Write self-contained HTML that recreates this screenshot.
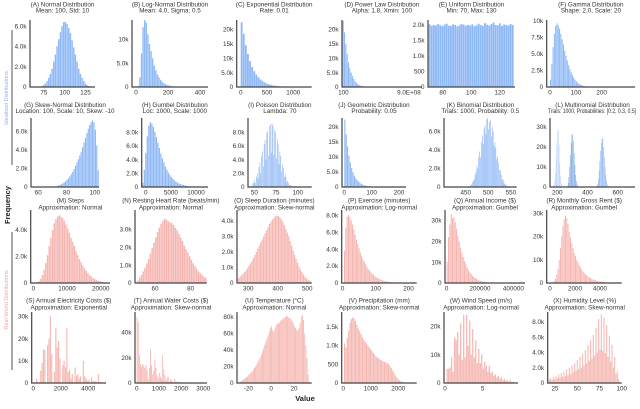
<!DOCTYPE html>
<html><head><meta charset="utf-8"><style>
html,body{margin:0;padding:0;background:#fff;}
svg{display:block;font-family:"Liberation Sans",sans-serif;}
</style></head><body>
<svg id="chart" width="640" height="409" viewBox="0 0 640 409" xmlns="http://www.w3.org/2000/svg">
<g>
<text x="0" y="0" transform="translate(10,205) rotate(-90)" text-anchor="middle" font-size="7.5" font-weight="bold" fill="#222">Frequency</text>
<text x="0" y="0" transform="translate(8,98) rotate(-90)" text-anchor="middle" font-size="5.5" fill="#8ab4f8">Idealised Distributions</text>
<line x1="12" y1="30" x2="12" y2="165" stroke="#555" stroke-width="1"/>
<text x="0" y="0" transform="translate(8,300) rotate(-90)" text-anchor="middle" font-size="5.5" fill="#f4a9a3">Real-World Distributions</text>
<line x1="12" y1="232" x2="12" y2="370" stroke="#555" stroke-width="1"/>
<text x="305" y="401" text-anchor="middle" font-size="7.5" font-weight="bold" fill="#222">Value</text>
</g>
</svg>
<script>
// ---- data (counts in thousands) ----
const countsA=[0,0,0,0.02,0.05,0.1,0.2,0.35,0.6,0.9,1.3,1.8,2.5,3.2,4.0,4.7,5.4,6.0,6.4,6.4,6.2,5.8,5.3,4.6,3.9,3.2,2.5,1.8,1.3,0.9,0.6,0.35,0.2,0.1,0.05,0.02,0,0,0];
const countsB=[0.2,2,7,12.5,14,13.5,11,9,7.5,6,4.5,3.5,2.6,2,1.5,1.1,0.8,0.6,0.45,0.33,0.25,0.18,0.13,0.1,0.07,0.05,0.03,0.02,0.01];
const countsC=[22.5,18.5,14.5,11.5,9,7,5.5,4.3,3.4,2.6,2.0,1.6,1.2,0.95,0.75,0.58,0.45,0.35,0.27,0.2,0.16,0.12,0.09,0.07,0.05,0.04,0.03,0.02,0.015,0.01];
const countsD=[23,19,15,11.5,8.5,6.5,5,3.8,2.8,2.0,1.4,1.0,0.7,0.5,0.35,0.25,0.15,0.1,0.06,0.03];
const countsE=[2.02,1.97,2.0,1.98,2.03,1.99,1.96,2.01,2.04,1.98,1.97,2.02,2.0,1.95,1.99,2.03,2.01,1.97,2.0,1.98,2.02,1.96,1.99,2.04,2.0,1.97,2.06,2.01,1.98,2.03,2.08,2.0,1.99,2.05,1.97,2.02,2.0,1.98,2.03,2.0];
const countsF=[1.1,3.5,6,8,9.2,9.6,9.3,8.8,8,7.2,6.4,5.5,4.7,4,3.3,2.7,2.2,1.8,1.4,1.1,0.85,0.65,0.5,0.38,0.28,0.2,0.15,0.1,0.07,0.05,0.03];
const countsG=[0.03,0.05,0.08,0.12,0.17,0.23,0.3,0.4,0.5,0.62,0.78,0.95,1.15,1.4,1.65,1.95,2.3,2.65,3.0,3.4,3.8,4.3,4.8,5.3,5.8,6.3,6.7,7.0,7.2,7.0,6.2,4.5,1.8];
const countsH=[0.6,2.5,5.0,7.4,9.0,9.5,9.3,8.8,8.1,7.3,6.5,5.7,4.9,4.2,3.6,3.0,2.5,2.1,1.75,1.45,1.2,0.97,0.8,0.65,0.52,0.42,0.34,0.27,0.22,0.17,0.13,0.1,0.08];
const countsI=[0.2,0,0.5,0.7,1.0,0.6,1.5,2.0,1.2,2.9,3.6,2.0,4.6,5.2,3.0,6.3,6.9,4.0,7.9,8.2,4.6,8.9,9.2,5.0,9.3,9.0,4.7,8.4,8.0,4.2,7.0,6.3,3.3,5.2,4.5,2.3,3.3,2.8,1.4,1.9,1.5,0.7,0.9,0.6,0.3,0.3,0.15,0.1];
const countsJ=[22.5,17.5,13.5,10.5,8.2,6.3,4.9,3.8,2.9,2.3,1.8,1.4,1.05,0.8,0.62,0.48,0.37,0.29,0.22,0.17,0.13,0.1,0.08,0.06,0.04];
const countsK=[0.05,0.1,0.15,0.3,0.5,0.7,0.8,1.3,1.6,2.3,2.0,3.2,3.8,3.2,4.8,5.5,4.6,6.3,6.6,5.6,7.3,7.4,6.2,7.0,7.2,5.4,6.4,6.0,4.4,4.8,4.2,3.0,3.3,2.6,1.8,1.8,1.3,0.8,0.8,0.5,0.3,0.3,0.15,0.1,0.05,0.03];
const countsL1=[0.3,1,3,7,14,22,28,28.5,21,12,5.5,2,0.6];
const countsL2=[0.5,2,5,10,16,22,26,26.5,23,17,11,6,3,1.2,0.4];
const countsL3=[0.5,1.5,4,8,13,18,22,24.5,24,20,15,10,6,3,1.3,0.5];
const countsM=[0.02,0.06,0.15,0.3,0.6,1.0,1.5,2.1,2.8,3.4,4.0,4.5,4.8,5.0,5.1,5.0,4.9,4.7,4.4,4.1,3.8,3.4,3.1,2.8,2.4,2.1,1.8,1.55,1.3,1.1,0.9,0.75,0.6,0.48,0.38,0.3,0.24,0.18,0.14,0.1,0.07,0.05];
const countsN=[0.15,0.3,0.45,0.65,0.85,1.1,1.35,1.65,1.95,2.25,2.55,2.85,3.1,3.3,3.5,3.6,3.55,3.45,3.4,3.35,3.25,3.1,2.95,2.75,2.55,2.35,2.1,1.9,1.7,1.5,1.3,1.1,0.95,0.8,0.65,0.55,0.45,0.35,0.3];
const countsO=[0.3,0.4,0.5,0.6,0.7,0.8,0.95,1.1,1.25,1.4,1.6,1.8,2.0,2.2,2.4,2.6,2.8,3.0,3.2,3.4,3.6,3.8,3.95,4.1,4.2,4.3,4.35,4.3,4.25,4.1,3.95,3.75,3.5,3.25,3.0,2.7,2.4,2.1,1.8,1.55,1.3,1.05,0.85,0.7,0.55,0.4,0.3,0.22,0.15,0.1];
const countsP=[3.8,6.5,7.8,8.0,7.8,7.4,6.9,6.3,5.7,5.1,4.6,4.1,3.6,3.2,2.8,2.5,2.2,1.9,1.65,1.45,1.25,1.1,0.95,0.82,0.7,0.6,0.52,0.44,0.38,0.32,0.27,0.23,0.19,0.16,0.13,0.11,0.09,0.07,0.05];
const countsQ=[10,22,28,33,31,31.5,29,26,22.5,20,17,14.5,12.5,10.5,9,7.5,6.2,5.2,4.3,3.5,2.9,2.4,2.0,1.6,1.3,1.05,0.85,0.7,0.55,0.45,0.35,0.28,0.22,0.17,0.13];
const countsR=[0.1,0.3,0.8,1.8,3.5,6,10,15,20,24.5,27.5,29,28,25.5,22,19.5,17,15,13,11.5,10,8.8,7.7,6.7,5.8,5.0,4.3,3.7,3.2,2.8,2.4,2.1,1.8,1.55,1.35,1.15,1.0,0.85,0.72,0.62,0.53,0.45,0.38,0.32,0.27,0.22,0.18,0.15];
const countsS=[2,0,0,5.5,9,15,15,0,17,20,30,13,0,5,25,16,19,11,0,8,10,7,25,5,6,2,4,0,7,3,4,2,3,0,10,3,2,1,1.5,0,2.5,1,0.5,1,0,4,0.5];
const countsT=[52,48,22,15,13,15,14,12,14,10,3,12,27,14,7,10,18,12,6,4,8,5,3,22,11,6,2,4,5,1,3,2,1,0.5,3,1,0.5,1.5,0.3,0.5,0.2,0.4,0,0.2,0.1,0,0.5,0];
const countsU=[2,3,4,5,6,7,8,9.5,11,12.5,14,16,18,20,22.5,25,28,31,34,38,42,46,50,54,58,62,66,68,64,62,66,70,72,71,73,75,76,78,78,80,81,80,79,78,77,75,72,68,66,64,63,66,72,80,82,76,60,45,30,10];
const countsV=[1.05,0.95,1.2,1.4,1.6,1.7,1.75,1.72,1.65,1.55,1.45,1.38,1.3,1.22,1.15,1.1,1.05,1.0,0.95,0.9,0.85,0.8,0.75,0.7,0.67,0.65,0.62,0.6,0.58,0.56,0.55,0.53,0.5,0.45,0.4,0.33,0.27,0.2,0.15,0.1,0.07,0.05,0.03,0.02,0.01,0.005];
const countsW=[5,5,5.5,9,4,16,15,18,10,21,8,24,9,24,13,22,10,19,9,15,7,12,7,10,5,7.5,6,4,6,3.5,4,2.5,3,2,2.5,1.5,2,1,1.5,0.8,1,0.5,1,0.3,0.5];
const countsX=[0.5,0.6,0.4,0.8,0.5,0.9,0.6,1.1,0.7,1.3,0.8,1.5,0.9,1.8,1.0,2.0,1.2,2.3,1.4,2.6,1.6,3.0,1.8,3.4,2.0,3.8,2.3,4.3,2.6,5.0,2.9,5.6,3.2,6.3,3.6,7.2,4.0,8.4,4.4,9.0,4.2,8.6,3.9,7.6,3.4,6.2,2.8,5.0,2.0,3.4,1.2,1.5,0.5];

const xTicksA=[75,100,125], yTicksA=[0,2,4,6];
const xTicksB=[0,200,400], yTicksB=[0,5,10];
const xTicksC=[0,500,1000], yTicksC=[0,5,10,15,20];
const xTicksD=[1,50.4], xLabelsD=["100","9.0E+08"], yTicksD=[0,5,10,15,20];
const xTicksE=[80,100,120], yTicksE=[0,0.5,1,1.5,2];
const xTicksF=[0,100,200], yTicksF=[0,2.5,5,7.5,10];
const xTicksG=[60,80,100], yTicksG=[0,2,4,6];
const xTicksH=[0,5000,10000], yTicksH=[0,2,4,6,8];
const xTicksI=[50,75,100], yTicksI=[0,2,4,6,8];
const xTicksJ=[0,100,200], yTicksJ=[0,5,10,15,20];
const xTicksK=[450,500,550], yTicksK=[0,2,4,6];
const xTicksL=[200,400,600], yTicksL=[0,10,20,30];
const xTicksM=[0,10000,20000], yTicksM=[0,2,4];
const xTicksN=[60,80], yTicksN=[0,1,2,3];
const xTicksO=[300,400,500], yTicksO=[0,1,2,3,4];
const xTicksP=[0,100,200], yTicksP=[0,2,4,6,8];
const xTicksQ=[0,200000,400000], yTicksQ=[0,10,20,30];
const xTicksR=[0,2000,4000], yTicksR=[0,10,20,30];
const xTicksS=[0,2000,4000], yTicksS=[0,10,20,30];
const xTicksT=[0,1000,2000,3000], yTicksT=[0,20,40];
const xTicksU=[-20,0,20], yTicksU=[0,20,40,60,80];
const xTicksV=[0,1000,2000], yTicksV=[0,0.5,1,1.5];
const xTicksW=[0,5], yTicksW=[0,10,20];
const xTicksX=[25,50,75,100], yTicksX=[0,2,4,6,8];

// ---- layout ----
const rows=[{top:20,base:87,t1:6.5,t2:12.5},{top:118,base:187,t1:106.8,t2:112.8},{top:210,base:283,t1:202.5,t2:209.5},{top:312,base:383,t1:302.5,t2:309.5}];
const BLUE='#8fb8f6', PINK='#f6b7b2';
const panels=[
{id:'a',row:0,l:30,r:95,d:[58.4,136.3],ym:6.6,t1:'(A) Normal Distribution',t2:'Mean: 100, Std: 10',series:[{c:countsA,s:62,w:2}],xt:xTicksA,yt:yTicksA,col:BLUE},
{id:'b',row:0,l:132,r:208,d:[-25,450],ym:14,t1:'(B) Log-Normal Distribution',t2:'Mean: 4.0, Sigma: 0.5',series:[{c:countsB,s:10,w:10}],xt:xTicksB,yt:yTicksB,col:BLUE},
{id:'c',row:0,l:236.7,r:311.7,d:[-76,1350],ym:23.3,t1:'(C) Exponential Distribution',t2:'Rate: 0.01',series:[{c:countsC,s:0,w:40}],xt:xTicksC,yt:yTicksC,col:BLUE},
{id:'d',row:0,l:342,r:421.7,d:[0,60],ym:23.3,t1:'(D) Power Law Distribution',t2:'Alpha: 1.8, Xmin: 100',series:[{c:countsD,s:0.5,w:1}],xt:xTicksD,xl:xLabelsD,yt:yTicksD,col:BLUE},
{id:'e',row:0,l:428,r:515,d:[69.5,130.8],ym:2.16,t1:'(E) Uniform Distribution',t2:'Min: 70, Max: 130',series:[{c:countsE,s:70,w:1.5}],xt:xTicksE,yt:yTicksE,col:BLUE},
{id:'f',row:0,l:546.7,r:635,d:[-12.8,329],ym:10.1,t1:'(F) Gamma Distribution',t2:'Shape: 2.0, Scale: 20',series:[{c:countsF,s:0,w:5}],xt:xTicksF,yt:yTicksF,col:BLUE},
{id:'g',row:1,l:31,r:99,d:[54.9,103],ym:7.46,t1:'(G) Skew-Normal Distribution',t2:'Location: 100, Scale: 10, Skew: -10',series:[{c:countsG,s:70,w:1}],xt:xTicksG,yt:yTicksG,col:BLUE},
{id:'h',row:1,l:141.7,r:208,d:[-795,12385],ym:10.1,t1:'(H) Gumbel Distribution',t2:'Loc: 1000, Scale: 1000',series:[{c:countsH,s:-700,w:300}],xt:xTicksH,yt:yTicksH,col:BLUE},
{id:'i',row:1,l:248,r:311.7,d:[42.7,116],ym:10.1,t1:'(I) Poisson Distribution',t2:'Lambda: 70',series:[{c:countsI,s:46,w:1}],xt:xTicksI,yt:yTicksI,col:BLUE},
{id:'j',row:1,l:342,r:406,d:[-8.4,225.6],ym:23,t1:'(J) Geometric Distribution',t2:'Probability: 0.05',series:[{c:countsJ,s:0,w:5}],xt:xTicksJ,yt:yTicksJ,col:BLUE},
{id:'k',row:1,l:444,r:516.7,d:[401.8,563],ym:7.4,t1:'(K) Binomial Distribution',t2:'Trials: 1000, Probability: 0.5',series:[{c:countsK,s:456,w:2}],xt:xTicksK,yt:yTicksK,col:BLUE},
{id:'l',row:1,l:550,r:635,d:[151.6,714.6],ym:34.5,t1:'(L) Multinomial Distribution',t2:'Trials: 1000, Probabilities: [0.2, 0.3, 0.5]',t2len:88,t2x:592,series:[{c:countsL1,s:170,w:5,col:'#b3cffa'},{c:countsL2,s:265,w:5,col:'#6e9fe6'},{c:countsL3,s:460,w:5,col:'#82aef2'}],xt:xTicksL,yt:yTicksL,col:BLUE},
{id:'m',row:2,l:30.7,r:110,d:[-780,22760],ym:5.5,t1:'(M) Steps',t2:'Approximation: Normal',series:[{c:countsM,s:500,w:500}],xt:xTicksM,yt:yTicksM,col:PINK},
{id:'n',row:2,l:135,r:206.7,d:[48.8,89],ym:4.09,t1:'(N) Resting Heart Rate (beats/min)',t2:'Approximation: Normal',series:[{c:countsN,s:50,w:1}],xt:xTicksN,yt:yTicksN,col:PINK},
{id:'o',row:2,l:237,r:311.7,d:[261.7,515],ym:4.7,t1:'(O) Sleep Duration (minutes)',t2:'Approximation: Skew-normal',series:[{c:countsO,s:265,w:5}],xt:xTicksO,yt:yTicksO,col:PINK},
{id:'p',row:2,l:341.7,r:416.7,d:[-3,225],ym:8.6,t1:'(P) Exercise (minutes)',t2:'Approximation: Log-normal',series:[{c:countsP,s:4,w:4}],xt:xTicksP,yt:yTicksP,col:PINK},
{id:'q',row:2,l:445,r:525,d:[-10000,470000],ym:35,t1:'(Q) Annual Income ($)',t2:'Approximation: Gumbel',series:[{c:countsQ,s:0,w:8000}],xt:xTicksQ,yt:yTicksQ,col:PINK},
{id:'r',row:2,l:546.7,r:621.7,d:[-264,5736],ym:31.4,t1:'(R) Monthly Gross Rent ($)',t2:'Approximation: Gumbel',series:[{c:countsR,s:100,w:100}],xt:xTicksR,yt:yTicksR,col:PINK},
{id:'s',row:3,l:31.7,r:106,d:[-116,5287],ym:32,t1:'(S) Annual Electricity Costs ($)',t2:'Approximation: Exponential',series:[{c:countsS,s:200,w:100}],xt:xTicksS,yt:yTicksS,col:PINK},
{id:'t',row:3,l:135,r:207,d:[-77,3166],ym:56,t1:'(T) Annual Water Costs ($)',t2:'Approximation: Skew-normal',series:[{c:countsT,s:0,w:50}],xt:xTicksT,yt:yTicksT,col:PINK},
{id:'u',row:3,l:237,r:311.7,d:[-29.9,35.5],ym:85.6,t1:'(U) Temperature (°C)',t2:'Approximation: Normal',series:[{c:countsU,s:-27,w:1}],xt:xTicksU,yt:yTicksU,col:PINK},
{id:'v',row:3,l:341.7,r:416.7,d:[-58,2669],ym:1.89,t1:'(V) Precipitation (mm)',t2:'Approximation: Skew-normal',series:[{c:countsV,s:25,w:50}],xt:xTicksV,yt:yTicksV,col:PINK},
{id:'w',row:3,l:444,r:518,d:[-0.13,9.69],ym:25,t1:'(W) Wind Speed (m/s)',t2:'Approximation: Log-normal',series:[{c:countsW,s:0.2,w:0.2}],xt:xTicksW,yt:yTicksW,col:PINK},
{id:'x',row:3,l:547.7,r:621.7,d:[16.8,100],ym:9.3,t1:'(X) Humidity Level (%)',t2:'Approximation: Skew-normal',series:[{c:countsX,s:18,w:1.5}],xt:xTicksX,yt:yTicksX,col:PINK}
];

const NS='http://www.w3.org/2000/svg';
const svg=document.getElementById('chart');
function mk(tag,attrs,parent){const e=document.createElementNS(NS,tag);for(const k in attrs)e.setAttribute(k,attrs[k]);parent.appendChild(e);return e;}
function fmtY(v){if(v===0)return '0';if(v<1)return String(Math.round(v*1000));if(v>=10)return Math.round(v)+'k';return v.toFixed(1)+'k';}

panels.forEach(p=>{
  const R=rows[p.row];
  const g=mk('g',{},svg);
  
  
  const xs=v=>p.l+(v-p.d[0])/(p.d[1]-p.d[0])*(p.r-p.l);
  const ys=v=>R.base-v/p.ym*(R.base-R.top);
  const cx=(p.l+p.r)/2;
  const a=mk('text',{x:cx,y:R.t1,'text-anchor':'middle','font-size':'6.3',fill:'#333'},g);
  a.textContent=p.t1;
  
  
  const battrs={x:(p.t2x||cx),y:R.t2,'text-anchor':'middle','font-size':'6.3',fill:'#333'};
  if(p.t2len){battrs.textLength=p.t2len;battrs.lengthAdjust='spacingAndGlyphs';}
  const b=mk('text',battrs,g);
  b.textContent=p.t2;
  
  
  p.series.forEach((s,si)=>{
    s.c.forEach((v,i)=>{
      const x0=xs(s.s+i*s.w), x1=xs(s.s+(i+1)*s.w);
      const y=ys(v);
      const bw=Math.max(0.4,(x1-x0)-0.25);
      const r=mk('rect',{x:x0.toFixed(2),y:y.toFixed(2),width:bw.toFixed(2),height:Math.max(0,R.base-y).toFixed(2),fill:s.col||p.col},g);
      
      
    });
  });
  const ax=mk('path',{d:`M${p.l},${R.top}V${R.base}H${p.r}`,fill:'none',stroke:'#444','stroke-width':'1.2'},g);
  
  
  p.yt.forEach(v=>{
    const t=mk('text',{x:p.l-3.5,y:(ys(v)+2.2).toFixed(2),'text-anchor':'end','font-size':'6.3',fill:'#333'},g);
    t.textContent=fmtY(v);
    
    
  });
  p.xt.forEach((v,i)=>{
    const t=mk('text',{x:xs(v).toFixed(2),y:R.base+7.5,'text-anchor':'middle','font-size':'6.3',fill:'#333'},g);
    t.textContent=p.xl?p.xl[i]:String(v);
    
    
  });
});
</script>
</body></html>
